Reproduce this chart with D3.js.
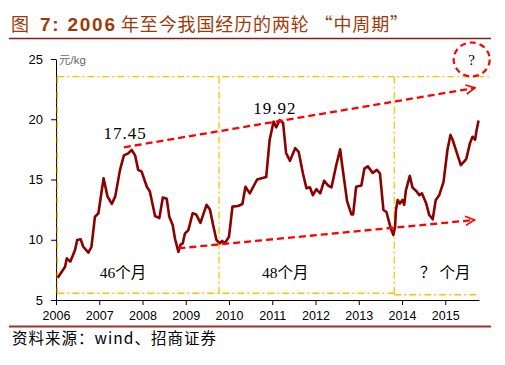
<!DOCTYPE html>
<html>
<head>
<meta charset="utf-8">
<script src="https://cdn.jsdelivr.net/npm/d3@7"></script>
<style>
  body { margin: 0; background: #fff; }
  svg { display: block; }
</style>
</head>
<body>
<div id="chart"></div>
<script>
// pork price, yuan/kg, [decimal year, value]
let priceSeries = [
  [2006.04, 6.85], [2006.21, 7.76], [2006.25, 8.46], [2006.33, 8.18], [2006.44, 9.15],
  [2006.49, 9.98], [2006.57, 10.04], [2006.63, 9.42], [2006.75, 8.93], [2006.82, 9.42],
  [2006.90, 11.9], [2006.98, 12.2], [2007.10, 15.1], [2007.19, 13.6], [2007.29, 12.97],
  [2007.37, 13.6], [2007.48, 15.8], [2007.57, 17.0], [2007.67, 17.17], [2007.75, 17.45],
  [2007.83, 17.0], [2007.90, 15.8], [2007.98, 15.65], [2008.10, 14.4], [2008.17, 14.0],
  [2008.29, 11.97], [2008.39, 11.8], [2008.47, 13.5], [2008.56, 13.4], [2008.62, 11.9],
  [2008.70, 11.2], [2008.75, 10.1], [2008.83, 9.0], [2008.88, 9.6], [2008.93, 9.7],
  [2008.98, 10.5], [2009.06, 10.8], [2009.16, 12.2], [2009.24, 12.1], [2009.34, 11.4],
  [2009.48, 12.9], [2009.56, 12.5], [2009.64, 11.1], [2009.71, 9.98], [2009.79, 9.7],
  [2009.84, 9.9], [2009.90, 9.7], [2010.00, 10.25], [2010.08, 12.75], [2010.21, 12.8],
  [2010.31, 12.97], [2010.38, 14.4], [2010.48, 13.85], [2010.65, 15.0], [2010.86, 15.2],
  [2010.94, 18.3], [2011.03, 19.8], [2011.09, 19.33], [2011.17, 19.92], [2011.25, 19.7],
  [2011.32, 17.2], [2011.41, 16.55], [2011.53, 17.6], [2011.61, 17.3], [2011.71, 15.5],
  [2011.79, 14.27], [2011.87, 14.35], [2011.94, 13.7], [2012.02, 14.2], [2012.11, 13.85],
  [2012.20, 14.9], [2012.29, 14.5], [2012.37, 14.35], [2012.48, 16.2], [2012.57, 17.5],
  [2012.62, 16.1], [2012.73, 13.2], [2012.83, 12.1], [2012.87, 12.1], [2012.94, 14.4],
  [2013.06, 14.5], [2013.13, 15.9], [2013.21, 16.1], [2013.32, 15.55], [2013.42, 15.8],
  [2013.49, 15.5], [2013.57, 12.47], [2013.64, 12.3], [2013.74, 10.95], [2013.80, 10.4],
  [2013.84, 11.1], [2013.86, 12.47], [2013.90, 13.3], [2013.95, 13.0], [2014.01, 13.3],
  [2014.05, 12.9], [2014.09, 14.1], [2014.18, 15.3], [2014.24, 14.35], [2014.34, 14.0],
  [2014.40, 13.7], [2014.46, 13.85], [2014.56, 13.0], [2014.63, 12.05], [2014.71, 11.7],
  [2014.78, 13.3], [2014.86, 13.7], [2014.96, 14.8], [2015.05, 17.45], [2015.12, 18.7],
  [2015.17, 18.3], [2015.26, 17.3], [2015.36, 16.2], [2015.44, 16.5], [2015.49, 16.75],
  [2015.57, 18.0], [2015.63, 18.55], [2015.69, 18.3], [2015.72, 19.0], [2015.77, 19.9]
]

let yearTicks = [2006, 2007, 2008, 2009, 2010, 2011, 2012, 2013, 2014, 2015]
let valueTicks = [5, 10, 15, 20, 25]

// cycle boundaries (decimal years) and the box around them
let cycleBounds = [2006.03, 2009.77, 2013.82]
let boxTop = 23.53
let boxBottom = 5.56

// trend lines [[t0, v0], [t1, v1]]
let upperTrend = [[2007.57, 17.67], [2015.69, 22.6]]
let lowerTrend = [[2008.83, 9.29], [2015.68, 11.64]]

// labels: [t, v, text]
let peakLabels = [[2007.60, 18.4, '17.45'], [2011.06, 20.4, '19.92']]
let cycleLabels = [[2007.55, 6.85, '46个月'], [2011.3, 6.85, '48个月'], [2015.0, 6.85, '？ 个月']]

let width = 505
let height = 365

let svg = d3
  .select('#chart')
  .append('svg')
  .attr('width', width)
  .attr('height', height)

let titleColor = '#9b3b0b'
let cjk = '"Noto Sans CJK SC", sans-serif'

// title, in three pieces
svg
  .append('text')
  .attr('x', 11)
  .attr('y', 31)
  .attr('fill', titleColor)
  .style('font-family', cjk)
  .style('font-size', '18px')
  .text('图')

svg
  .append('text')
  .attr('x', 40)
  .attr('y', 31)
  .attr('fill', titleColor)
  .attr('textLength', 75)
  .attr('lengthAdjust', 'spacing')
  .style('font-family', '"Liberation Sans", Arial, sans-serif')
  .style('font-weight', 'bold')
  .style('font-size', '19px')
  .text('7: 2006')

svg
  .append('text')
  .attr('x', 121)
  .attr('y', 31)
  .attr('fill', titleColor)
  .attr('textLength', 287)
  .attr('lengthAdjust', 'spacing')
  .style('font-family', cjk)
  .style('font-size', '18px')
  .text('年至今我国经历的两轮 “中周期”')

svg
  .append('line')
  .attr('x1', 9)
  .attr('x2', 491)
  .attr('y1', 38.5)
  .attr('y2', 38.5)
  .attr('stroke', '#8b1a1a')
  .attr('stroke-width', 1.5)

// bottom rule + source
svg
  .append('line')
  .attr('x1', 9)
  .attr('x2', 491)
  .attr('y1', 326.5)
  .attr('y2', 326.5)
  .attr('stroke', '#a0302a')
  .attr('stroke-width', 2)

svg
  .append('text')
  .attr('x', 12)
  .attr('y', 344)
  .attr('textLength', 204)
  .attr('lengthAdjust', 'spacing')
  .style('font-family', cjk)
  .style('font-size', '15.5px')
  .attr('fill', '#000')
  .text('资料来源：wind、招商证券')

let x = d3.scaleLinear().domain([2006, 2015.78]).range([56, 479])
let y = d3.scaleLinear().domain([5, 25]).range([300, 59])

// axes
let xAxis = svg
  .append('g')
  .attr('transform', `translate(0, ${y(5)})`)
  .call(
    d3.axisBottom(x)
      .tickValues(yearTicks)
      .tickFormat(d3.format('d'))
      .tickSize(5)
      .tickSizeOuter(0)
  )
xAxis.select('.domain').attr('stroke', '#000')
xAxis
  .selectAll('text')
  .attr('dy', '0.95em')
  .style('font-family', '"Liberation Sans", Arial, sans-serif')
  .style('font-size', '12.5px')
  .attr('fill', '#000')

let yAxis = svg
  .append('g')
  .attr('transform', `translate(${x(2006)}, 0)`)
  .call(
    d3.axisLeft(y)
      .tickValues(valueTicks)
      .tickSize(5)
      .tickSizeOuter(0)
      .tickPadding(8)
  )
yAxis.select('.domain').attr('stroke', '#000')
yAxis
  .selectAll('text')
  .style('font-family', '"Liberation Sans", Arial, sans-serif')
  .style('font-size', '13px')
  .attr('fill', '#000')

svg
  .append('text')
  .attr('x', x(2006) + 3)
  .attr('y', y(25) + 5)
  .style('font-family', '"Liberation Sans", "Noto Sans CJK SC", sans-serif')
  .style('font-size', '11.5px')
  .attr('fill', '#666')
  .text('元/kg')

// orange dash-dot frame
let orange = '#ffc000'
let dashDot = '7,3,2,3'
let frame = svg.append('g').attr('class', 'frame')

frame
  .append('line')
  .attr('x1', x(cycleBounds[0]))
  .attr('x2', x(2016.01))
  .attr('y1', y(boxTop))
  .attr('y2', y(boxTop))

frame
  .append('line')
  .attr('x1', x(cycleBounds[0]))
  .attr('x2', x(cycleBounds[2]))
  .attr('y1', y(boxBottom))
  .attr('y2', y(boxBottom))

frame
  .append('line')
  .attr('x1', x(cycleBounds[2]))
  .attr('x2', x(2015.72))
  .attr('y1', y(boxBottom) + 1.5)
  .attr('y2', y(boxBottom) + 1.5)

frame
  .selectAll('.bound')
  .data(cycleBounds)
  .enter()
  .append('line')
  .attr('class', 'bound')
  .attr('x1', d => x(d))
  .attr('x2', d => x(d))
  .attr('y1', y(boxTop))
  .attr('y2', (d, i) => y(boxBottom) + (i === 2 ? 1.5 : 0))

frame
  .selectAll('line')
  .attr('stroke', orange)
  .attr('stroke-width', 1.3)
  .attr('stroke-dasharray', dashDot)

// price line
let line = d3
  .line()
  .x(d => x(d[0]))
  .y(d => y(d[1]))

svg
  .append('path')
  .datum(priceSeries)
  .attr('d', line)
  .attr('fill', 'none')
  .attr('stroke', '#8b0000')
  .attr('stroke-width', 2.6)
  .attr('stroke-linejoin', 'round')

// trend arrows
svg
  .append('defs')
  .append('marker')
  .attr('id', 'arrow')
  .attr('viewBox', '0 0 10 10')
  .attr('refX', 9)
  .attr('refY', 5)
  .attr('markerWidth', 5)
  .attr('markerHeight', 5)
  .attr('markerUnits', 'strokeWidth')
  .attr('orient', 'auto')
  .append('path')
  .attr('d', 'M1,1 L9,5 L1,9')
  .attr('fill', 'none')
  .attr('stroke', '#ff0000')
  .attr('stroke-width', 1.4)

svg
  .selectAll('.trend')
  .data([upperTrend, lowerTrend])
  .enter()
  .append('path')
  .attr('class', 'trend')
  .attr('d', line)
  .attr('fill', 'none')
  .attr('stroke', '#ff0000')
  .attr('stroke-width', 2.3)
  .attr('stroke-dasharray', '7,4')
  .attr('marker-end', 'url(#arrow)')

// peak labels
svg
  .selectAll('.peak')
  .data(peakLabels)
  .enter()
  .append('text')
  .attr('class', 'peak')
  .attr('x', d => x(d[0]))
  .attr('y', d => y(d[1]))
  .attr('text-anchor', 'middle')
  .style('font-family', '"Liberation Serif", "Times New Roman", serif')
  .style('font-size', '17px')
  .style('letter-spacing', '1px')
  .attr('fill', '#000')
  .text(d => d[2])

// cycle length labels
svg
  .selectAll('.cycle')
  .data(cycleLabels)
  .enter()
  .append('text')
  .attr('class', 'cycle')
  .attr('x', d => x(d[0]))
  .attr('y', d => y(d[1]))
  .attr('text-anchor', 'middle')
  .style('font-family', '"Liberation Serif", "Noto Sans CJK SC", serif')
  .style('font-size', '15.5px')
  .attr('fill', '#000')
  .text(d => d[2])

// the question circle
let qx = 471.7
let qy = 59.5
svg
  .append('ellipse')
  .attr('cx', qx)
  .attr('cy', qy)
  .attr('rx', 18)
  .attr('ry', 17)
  .attr('fill', 'none')
  .attr('stroke', '#ff0000')
  .attr('stroke-width', 2.2)
  .attr('stroke-dasharray', '6,4')

svg
  .append('text')
  .attr('x', qx)
  .attr('y', qy + 5)
  .attr('text-anchor', 'middle')
  .style('font-family', '"Liberation Serif", serif')
  .style('font-size', '15px')
  .attr('fill', '#000')
  .text('?')
</script>
</body>
</html>
